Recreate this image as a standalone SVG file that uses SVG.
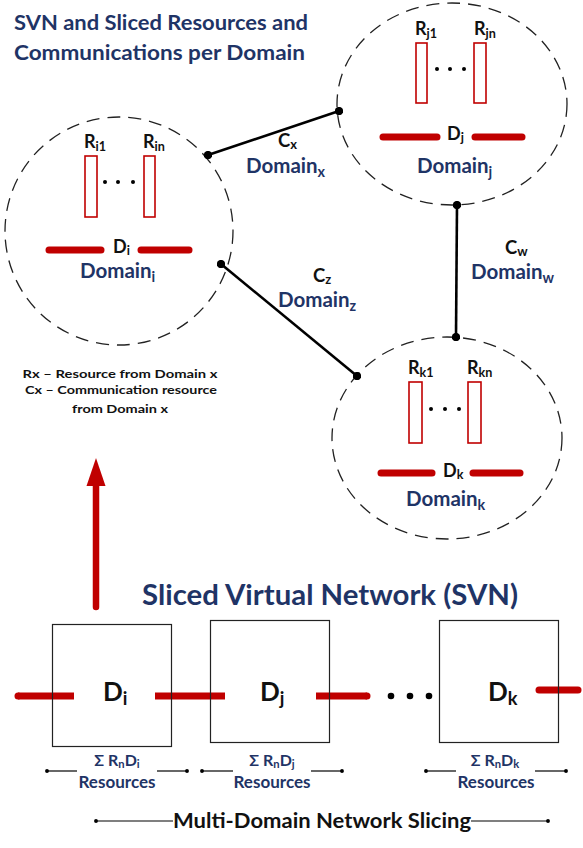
<svg xmlns="http://www.w3.org/2000/svg" width="583" height="848" viewBox="0 0 583 848">
<defs>
<style>
text{font-family:Lato,"Open Sans","Liberation Sans",sans-serif;font-weight:700}
.navy{fill:#1f3466}
.blk{fill:#111}
.dash{fill:none;stroke:#222;stroke-width:1.3;stroke-dasharray:13 8}
.res{fill:#fff;stroke:#c00000;stroke-width:1.6}
.bar{stroke:#c00000;stroke-width:7;stroke-linecap:round}
.sbar{stroke:#c00000;stroke-width:7;stroke-linecap:butt}
.conn{stroke:#000;stroke-width:2.6}
.box{fill:none;stroke:#222;stroke-width:1.2}
.thin{stroke:#000;stroke-width:1.2}
.sub{font-size:70%}
</style>
<marker id="dot" viewBox="0 0 10 10" refX="5" refY="5" markerWidth="3.2" markerHeight="3.2"><circle cx="5" cy="5" r="5" fill="#000"/></marker>
</defs>
<rect width="583" height="848" fill="#fff"/>

<g id="title">
<text class="navy" x="14" y="30" font-size="21" textLength="294" lengthAdjust="spacingAndGlyphs">SVN and Sliced Resources and</text>
<text class="navy" x="14" y="60" font-size="21" textLength="291" lengthAdjust="spacingAndGlyphs">Communications per Domain</text>
</g>

<g id="domain-i">
<ellipse class="dash" cx="119" cy="231" rx="114" ry="114"/>
<text class="blk" x="84" y="148" font-size="18">R<tspan class="sub" dy="3">i1</tspan></text>
<text class="blk" x="143" y="148" font-size="18">R<tspan class="sub" dy="3">in</tspan></text>
<rect class="res" x="85" y="156" width="12" height="61"/>
<rect class="res" x="144" y="156" width="11" height="61"/>
<circle cx="105" cy="182" r="2"/><circle cx="118" cy="182" r="2"/><circle cx="133" cy="182" r="2"/>
<line class="bar" x1="49" y1="250" x2="101" y2="250"/>
<line class="bar" x1="141" y1="250" x2="189" y2="250"/>
<text class="blk" x="113" y="253" font-size="18">D<tspan class="sub" dy="2">i</tspan></text>
<text class="navy" x="80" y="278" font-size="20.5">Domain<tspan class="sub" dy="4">i</tspan></text>
</g>

<g id="domain-j">
<ellipse class="dash" cx="452" cy="104" rx="115" ry="101"/>
<text class="blk" x="415" y="35" font-size="18">R<tspan class="sub" dy="3">j1</tspan></text>
<text class="blk" x="474" y="35" font-size="18">R<tspan class="sub" dy="3">jn</tspan></text>
<rect class="res" x="416" y="43" width="11" height="60"/>
<rect class="res" x="474" y="43" width="12" height="60"/>
<circle cx="437" cy="69" r="2"/><circle cx="450" cy="69" r="2"/><circle cx="464" cy="69" r="2"/>
<line class="bar" x1="383" y1="137" x2="437" y2="137"/>
<line class="bar" x1="475" y1="137" x2="522" y2="137"/>
<text class="blk" x="447" y="140" font-size="18">D<tspan class="sub" dy="2">j</tspan></text>
<text class="navy" x="417" y="173" font-size="20.5">Domain<tspan class="sub" dy="4">j</tspan></text>
</g>

<g id="domain-k">
<ellipse class="dash" cx="447" cy="438" rx="115" ry="101"/>
<text class="blk" x="408" y="374" font-size="18">R<tspan class="sub" dy="3">k1</tspan></text>
<text class="blk" x="467" y="374" font-size="18">R<tspan class="sub" dy="3">kn</tspan></text>
<rect class="res" x="409" y="382" width="13" height="61"/>
<rect class="res" x="468" y="382" width="13" height="61"/>
<circle cx="431" cy="409" r="2"/><circle cx="445" cy="409" r="2"/><circle cx="459" cy="409" r="2"/>
<line class="bar" x1="381" y1="473" x2="432" y2="473"/>
<line class="bar" x1="473" y1="473" x2="520" y2="473"/>
<text class="blk" x="443" y="477" font-size="18">D<tspan class="sub" dy="2">k</tspan></text>
<text class="navy" x="406" y="506" font-size="20.5">Domain<tspan class="sub" dy="4">k</tspan></text>
</g>

<g id="connectors">
<line class="conn" x1="208" y1="155" x2="339" y2="111" marker-start="url(#dot)" marker-end="url(#dot)"/>
<line class="conn" x1="221" y1="264" x2="357" y2="376" marker-start="url(#dot)" marker-end="url(#dot)"/>
<line class="conn" x1="457" y1="205" x2="456" y2="337" marker-start="url(#dot)" marker-end="url(#dot)"/>
<text class="blk" x="278" y="147" font-size="18.5">C<tspan class="sub" dy="1.5">x</tspan></text>
<text class="navy" x="246" y="173" font-size="20.5">Domain<tspan class="sub" dy="4">x</tspan></text>
<text class="blk" x="313" y="282" font-size="18.5">C<tspan class="sub" dy="1.5">z</tspan></text>
<text class="navy" x="278" y="307" font-size="20.5">Domain<tspan class="sub" dy="4">z</tspan></text>
<text class="blk" x="505" y="254" font-size="18.5">C<tspan class="sub" dy="1.5">w</tspan></text>
<text class="navy" x="471" y="279" font-size="20.5">Domain<tspan class="sub" dy="4">w</tspan></text>
</g>

<g id="legend">
<text class="blk" x="120" y="378" font-size="12" text-anchor="middle" textLength="195" lengthAdjust="spacingAndGlyphs">Rx – Resource from Domain x</text>
<text class="blk" x="121" y="394" font-size="12" text-anchor="middle" textLength="192" lengthAdjust="spacingAndGlyphs">Cx – Communication resource</text>
<text class="blk" x="120" y="413" font-size="12" text-anchor="middle" textLength="96" lengthAdjust="spacingAndGlyphs">from Domain x</text>
</g>

<g id="svn-arrow">
<line x1="96" y1="607" x2="96" y2="482" stroke="#c00000" stroke-width="6.5" stroke-linecap="round"/>
<polygon points="96,458 105.5,486 86.5,486" fill="#c00000"/>
</g>

<g id="svn-title">
<text class="navy" x="142" y="605" font-size="29" textLength="376" lengthAdjust="spacingAndGlyphs">Sliced Virtual Network (SVN)</text>
</g>

<g id="svn-links">
<line class="sbar" x1="18" y1="696" x2="74" y2="696"/>
<circle cx="18" cy="696" r="3.5" fill="#c00000"/>
<line class="sbar" x1="155" y1="696" x2="225" y2="696"/>
<line class="sbar" x1="316" y1="696" x2="367" y2="696"/>
<circle cx="367" cy="696" r="3.5" fill="#c00000"/>
<line class="bar" x1="539" y1="690" x2="578" y2="690"/>
<circle cx="391" cy="696" r="3.3"/><circle cx="410" cy="696" r="3.3"/><circle cx="429" cy="696" r="3.3"/>
</g>

<g id="svn-di">
<rect class="box" x="52.5" y="624.5" width="119" height="122"/>
<text class="blk" x="103" y="701" font-size="26">D<tspan class="sub" dy="4">i</tspan></text>
<text class="navy" x="117" y="766" font-size="16" text-anchor="middle">Σ R<tspan class="sub" dy="2">n</tspan><tspan dy="-2">D</tspan><tspan class="sub" dy="2">i</tspan></text>
<text class="navy" x="117" y="788" font-size="17" text-anchor="middle" textLength="77" lengthAdjust="spacingAndGlyphs">Resources</text>
<line class="thin" x1="47" y1="771" x2="77" y2="771" marker-start="url(#dot)"/>
<line class="thin" x1="157" y1="771" x2="187" y2="771" marker-end="url(#dot)"/>
</g>

<g id="svn-dj">
<rect class="box" x="210.5" y="620.5" width="119" height="122"/>
<text class="blk" x="260" y="701" font-size="26">D<tspan class="sub" dy="4">j</tspan></text>
<text class="navy" x="272" y="766" font-size="16" text-anchor="middle">Σ R<tspan class="sub" dy="2">n</tspan><tspan dy="-2">D</tspan><tspan class="sub" dy="2">j</tspan></text>
<text class="navy" x="272" y="788" font-size="17" text-anchor="middle" textLength="77" lengthAdjust="spacingAndGlyphs">Resources</text>
<line class="thin" x1="202" y1="771" x2="233" y2="771" marker-start="url(#dot)"/>
<line class="thin" x1="311" y1="771" x2="342" y2="771" marker-end="url(#dot)"/>
</g>

<g id="svn-dk">
<rect class="box" x="439.5" y="620.5" width="119" height="122"/>
<text class="blk" x="488" y="701" font-size="26">D<tspan class="sub" dy="4">k</tspan></text>
<text class="navy" x="495" y="766" font-size="16" text-anchor="middle">Σ R<tspan class="sub" dy="2">n</tspan><tspan dy="-2">D</tspan><tspan class="sub" dy="2">k</tspan></text>
<text class="navy" x="496" y="788" font-size="17" text-anchor="middle" textLength="77" lengthAdjust="spacingAndGlyphs">Resources</text>
<line class="thin" x1="426" y1="771" x2="456" y2="771" marker-start="url(#dot)"/>
<line class="thin" x1="535" y1="771" x2="566" y2="771" marker-end="url(#dot)"/>
</g>

<g id="footer">
<line class="thin" x1="96" y1="821" x2="173" y2="821" marker-start="url(#dot)"/>
<text class="blk" x="173" y="828" font-size="20" textLength="298" lengthAdjust="spacingAndGlyphs">Multi-Domain Network Slicing</text>
<line class="thin" x1="471" y1="821" x2="548" y2="821" marker-end="url(#dot)"/>
</g>
</svg>
